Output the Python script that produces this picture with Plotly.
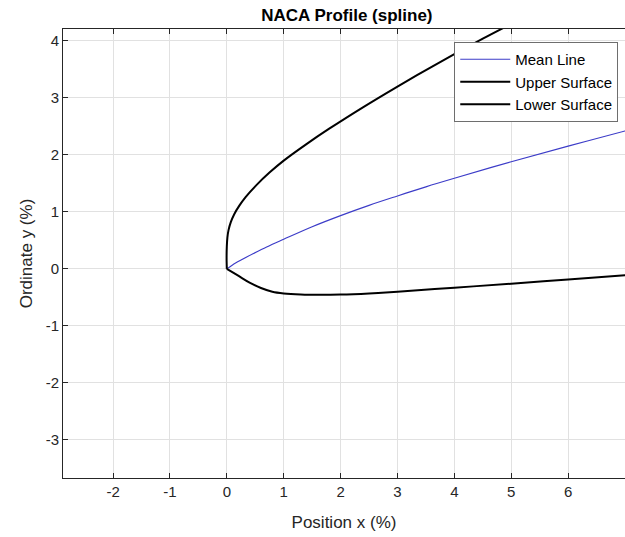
import plotly.graph_objects as go

# Mean line (camber)
mean_x = [0.0, 0.1, 0.25, 0.46, 0.7, 1.0, 1.5, 2.0, 2.5, 3.0, 3.5, 4.0, 5.0, 6.0, 7.0, 7.3]
mean_y = [0.0, 0.07, 0.155, 0.265, 0.385, 0.52, 0.74, 0.935, 1.115, 1.28, 1.44, 1.59, 1.88, 2.155, 2.42, 2.50]

# Upper surface
upper_x = [0.0, -0.004, 0.0, 0.01, 0.03, 0.07, 0.13, 0.22, 0.33, 0.52, 0.75, 1.0, 1.4, 1.8, 2.4, 3.0, 3.5, 4.0, 4.5, 5.0]
upper_y = [0.0, 0.2, 0.4, 0.55, 0.68, 0.82, 0.96, 1.11, 1.26, 1.47, 1.69, 1.90, 2.19, 2.46, 2.84, 3.20, 3.49, 3.77, 4.04, 4.30]

# Lower surface
lower_x = [0.0, 0.2, 0.4, 0.6, 0.8, 1.0, 1.3, 1.63, 2.0, 2.5, 3.0, 4.0, 5.0, 6.0, 7.0, 7.3]
lower_y = [0.0, -0.12, -0.24, -0.335, -0.4, -0.43, -0.449, -0.455, -0.45, -0.43, -0.40, -0.33, -0.26, -0.185, -0.11, -0.09]

x_ticks = [-2, -1, 0, 1, 2, 3, 4, 5, 6, 7]
y_ticks = [-3, -2, -1, 0, 1, 2, 3, 4]

FONT = "Arial, 'Liberation Sans', Helvetica, sans-serif"
AX = "rgb(38,38,38)"

fig = go.Figure()
fig.add_trace(go.Scatter(x=mean_x, y=mean_y, mode="lines", name="Mean Line",
                         line=dict(color="rgb(60,60,200)", width=1.2, shape="spline", smoothing=1.0)))
fig.add_trace(go.Scatter(x=upper_x, y=upper_y, mode="lines", name="Upper Surface",
                         line=dict(color="black", width=2, shape="spline", smoothing=1.0)))
fig.add_trace(go.Scatter(x=lower_x, y=lower_y, mode="lines", name="Lower Surface",
                         line=dict(color="black", width=2, shape="spline", smoothing=1.0)))

axis_common = dict(
    showgrid=True, gridcolor="rgb(225,225,225)", gridwidth=1,
    zeroline=False, showline=True, linecolor=AX, linewidth=1,
    ticks="inside", ticklen=5, tickcolor=AX,
    tickfont=dict(family=FONT, size=15, color=AX),
)

fig.update_layout(
    width=625, height=537,
    margin=dict(l=63, r=0, t=29, b=59),
    paper_bgcolor="white", plot_bgcolor="white",
    title=dict(text="<b>NACA Profile (spline)</b>", x=0.555, xanchor="center",
               y=1 - 15 / 537, yanchor="middle",
               font=dict(family=FONT, size=17, color="black")),
    xaxis=dict(range=[-2.88, 7.0], tickvals=x_ticks, ticktext=[str(t) for t in x_ticks],
               mirror="ticks",
               title=dict(text="Position x (%)", font=dict(family=FONT, size=17, color=AX), standoff=17),
               **axis_common),
    yaxis=dict(range=[-3.67, 4.21], tickvals=y_ticks, ticktext=[str(t) for t in y_ticks],
               mirror=False,
               title=dict(text="Ordinate y (%)", font=dict(family=FONT, size=17, color=AX), standoff=8),
               **axis_common),
    legend=dict(x=0.988, xanchor="right", y=0.971, yanchor="top",
                bgcolor="white", bordercolor="rgb(110,110,110)", borderwidth=1,
                font=dict(family=FONT, size=15, color="black"),
                itemwidth=50, tracegroupgap=0),
    showlegend=True,
)

fig.write_html("out.html")
